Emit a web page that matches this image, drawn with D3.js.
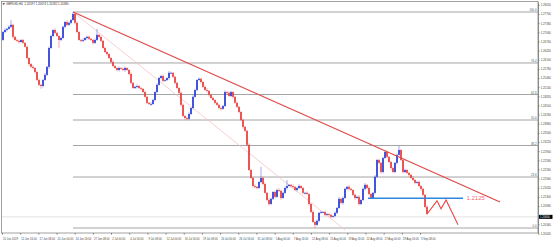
<!DOCTYPE html>
<html><head><meta charset="utf-8">
<script src="https://cdn.jsdelivr.net/npm/d3@7"></script>
<style>body{margin:0;background:#fff}svg{display:block}text{font-family:"Liberation Sans",Arial,sans-serif}</style>
</head><body><svg id="c" width="553" height="241"></svg>
<script>
// ---- data (GBPUSD H4) ----
const closes=[1.2707,1.2714,1.2718,1.2725,1.2732,1.2690,1.2679,1.2676,1.2672,1.2679,
1.2669,1.2655,1.2616,1.2595,1.2585,1.2581,1.2567,1.2539,1.2522,1.2518,
1.2539,1.2557,1.2585,1.2651,1.2693,1.2714,1.2704,1.2693,1.2679,1.2686,
1.2725,1.2742,1.2732,1.2739,1.2749,1.2770,1.2739,1.2707,1.2679,1.2676,
1.2679,1.2686,1.2690,1.2683,1.2679,1.2669,1.2679,1.2697,1.2690,1.2676,
1.2651,1.2637,1.2630,1.2616,1.2602,1.2588,1.2581,1.2574,1.2581,1.2578,
1.2574,1.2581,1.2574,1.2560,1.2529,1.2511,1.2515,1.2518,1.2511,1.2508,
1.2497,1.2480,1.2459,1.2455,1.2455,1.2469,1.2497,1.2522,1.2546,1.2553,
1.2536,1.2539,1.2546,1.2564,1.2564,1.2550,1.2529,1.2511,1.2494,1.2452,
1.2413,1.2406,1.2403,1.2420,1.2441,1.2480,1.2504,1.2539,1.2543,1.2532,
1.2515,1.2504,1.2501,1.2487,1.2476,1.2469,1.2459,1.2452,1.2441,1.2438,
1.2448,1.2497,1.2494,1.2483,1.2497,1.2480,1.2459,1.2445,1.2427,1.2399,
1.2375,1.2361,1.2312,1.2224,1.2196,1.2168,1.2165,1.2161,1.2182,1.2196,
1.2175,1.2144,1.2119,1.2105,1.2123,1.2147,1.2130,1.2154,1.2151,1.2126,
1.2144,1.2161,1.2168,1.2172,1.2168,1.2165,1.2154,1.2161,1.2168,1.2161,
1.2144,1.2144,1.2140,1.2105,1.2077,1.2042,1.2032,1.2046,1.2074,1.2077,
1.2077,1.2067,1.2070,1.2067,1.2060,1.2063,1.2074,1.2091,1.2123,1.2109,
1.2126,1.2158,1.2165,1.2158,1.2154,1.2137,1.2126,1.2130,1.2105,1.2119,
1.2158,1.2172,1.2161,1.2140,1.2126,1.2144,1.2200,1.2259,1.2249,1.2217,
1.2266,1.2287,1.2270,1.2252,1.2231,1.2217,1.2249,1.2277,1.2294,1.2259,
1.2217,1.2224,1.2214,1.2207,1.2196,1.2189,1.2179,1.2182,1.2168,1.2158,
1.2137,1.2095,1.2070];
const firstOpen=1.2679;
// wick lengths in pips
const wickHi=[4,6,3,5,17,4,3,5,4,3, 4,3,5,3,4,6,3,4,5,3, 4,6,3,5,4,3,6,4,3,5, 4,3,6,4,3,7,4,5,3,4,
6,3,4,5,3,4,5,21,3,4, 3,5,4,3,4,6,3,4,5,3, 4,5,3,4,6,3,4,5,3,4, 3,5,4,3,6,4,3,5,4,3,
5,4,3,6,4,3,5,4,3,4, 5,3,4,6,3,5,4,3,5,4, 3,4,6,3,4,5,3,4,3,5, 4,6,3,5,4,3,4,5,3,4,
5,3,4,6,3,4,5,3,4,39, 4,5,3,6,4,3,5,4,6,3, 4,5,21,3,4,5,3,4,6,3, 4,3,5,4,3,6,4,5,3,4,
3,5,4,3,4,3,5,4,6,3, 5,4,3,6,4,3,5,4,6,3, 4,6,3,5,4,3,6,4,5,3, 4,6,5,3,4,5,3,4,14,4,
3,5,4,3,4,6,3,4,5,3, 4,3,5];
const wickLo=[3,4,5,3,4,6,3,4,5,3, 4,3,5,6,3,4,5,3,4,10, 5,3,4,6,3,4,5,3,28,4, 3,5,4,3,4,3,6,4,3,5,
4,3,5,4,3,6,4,3,5,4, 3,4,6,3,5,4,3,4,5,3, 4,6,3,5,4,3,4,5,3,6, 4,3,5,4,6,3,4,5,3,4,
5,3,4,6,3,4,5,3,4,6, 4,6,5,3,4,5,3,4,3,5, 4,3,5,6,3,4,5,3,4,6, 3,4,5,3,4,6,3,4,5,4,
6,3,5,4,3,6,5,4,3,4, 5,3,4,6,3,4,5,3,4,6, 3,4,5,3,6,4,3,5,4,3, 4,6,3,5,4,3,11,4,5,3,
4,5,3,6,4,3,4,5,3,4, 6,3,4,5,3,4,6,3,5,4, 3,5,4,6,3,4,5,3,4,6, 4,3,5,4,6,3,4,5,3,4,
5,3,4,6,3,4,5,3,4,6, 4,5,3];
const xLabels=["10 Jun 2019","12 Jun 16:00","17 Jun 08:00","20 Jun 00:00","24 Jun 16:00","27 Jun 08:00",
"2 Jul 00:00","4 Jul 16:00","9 Jul 08:00","12 Jul 00:00","16 Jul 16:00","19 Jul 08:00",
"24 Jul 00:00","26 Jul 16:00","31 Jul 08:00","5 Aug 00:00","7 Aug 16:00","12 Aug 08:00",
"15 Aug 00:00","19 Aug 16:00","22 Aug 08:00","27 Aug 00:00","29 Aug 16:00","3 Sep 08:00"];
const yTicks=[1.2802,1.2770,1.2738,1.2706,1.2674,1.2642,1.2610,1.2578,1.2546,1.2514,1.2482,1.2450,1.2418,
1.2386,1.2354,1.2322,1.2290,1.2258,1.2226,1.2194,1.2162,1.2130,1.2098,1.2034,1.2002];
const fibLevels=[0,23.6,38.2,50,61.8,76.4,100];
const fibHigh=1.2777, fibLow=1.2021, fibStart=35;
const trendLine=[[35,1.2777],[248.5,1.2112]];
const faintLine=[[35,1.2777],[171,1.2014]];
const supportLevel=1.2125, supportFrom=182.5, supportTo=230;
const projection=[[212,1.2070],[217,1.2116],[219,1.2088],[221.5,1.2119],[227.5,1.2032]];
const currentPrice=1.2060;
const header="GBPUSD,H4  1.20597 1.20674 1.20282 1.20380";

// ---- layout ----
const L=1.5,R=538,T=1.5,B=233;
const svg=d3.select("#c");
const x=d3.scaleLinear().domain([0,closes.length-1]).range([3,427]);
const xl=d3.scaleLinear().domain([0,xLabels.length-1]).range([2,420]);
const y=d3.scaleLinear().domain([1.20035,1.2812]).range([233,2]);
const UP="#2d3fd8",DN="#e8403f";

svg.append("clipPath").attr("id","clip").append("rect").attr("x",L).attr("y",T).attr("width",R-L).attr("height",B-T);
const g=svg.append("g").attr("clip-path","url(#clip)");

// fib levels
const fib=g.append("g");
fibLevels.forEach(l=>{
  const p=fibLow+(fibHigh-fibLow)*l/100;
  fib.append("line").attr("x1",x(fibStart)).attr("x2",R).attr("y1",y(p)).attr("y2",y(p))
    .attr("stroke","#a4a4a4").attr("stroke-width",1);
  fib.append("text").attr("x",R-1.5).attr("y",y(p)-0.8).attr("text-anchor","end")
    .attr("font-size",2.8).attr("fill","#555").text(l.toFixed(1));
});
// current price line
g.append("line").attr("x1",L).attr("x2",R).attr("y1",y(currentPrice)).attr("y2",y(currentPrice))
  .attr("stroke","#dcdcdc").attr("stroke-width",0.8);

const line=d3.line().x(d=>x(d[0])).y(d=>y(d[1]));
g.append("path").attr("d",line(faintLine)).attr("stroke","#f4c4c4").attr("stroke-width",0.8).attr("fill","none");

// candles
const candles=closes.map((c,i)=>{
  const o=i?closes[i-1]:firstOpen;
  return {i,o,c,h:Math.max(o,c)+wickHi[i]*1e-4,l:Math.min(o,c)-wickLo[i]*1e-4};
});
const cg=g.append("g");
cg.selectAll("line").data(candles).join("line")
  .attr("x1",d=>x(d.i)).attr("x2",d=>x(d.i)).attr("y1",d=>y(d.h)).attr("y2",d=>y(d.l))
  .attr("stroke",d=>d.c>=d.o?UP:DN).attr("stroke-opacity",0.5).attr("stroke-width",0.9);
cg.selectAll("rect").data(candles).join("rect")
  .attr("x",d=>x(d.i)-0.85).attr("width",1.7)
  .attr("y",d=>y(Math.max(d.o,d.c)))
  .attr("height",d=>Math.max(0.8,Math.abs(y(d.o)-y(d.c))))
  .attr("fill",d=>d.c>=d.o?UP:DN);

// trend line
g.append("path").attr("d",line(trendLine)).attr("stroke","#e04848").attr("stroke-width",1.2).attr("fill","none");
// support line
g.append("line").attr("x1",x(supportFrom)).attr("x2",x(supportTo)).attr("y1",y(supportLevel)).attr("y2",y(supportLevel))
  .attr("stroke","#2f86dc").attr("stroke-width",1.5);
g.append("text").attr("x",x(supportTo)+3.5).attr("y",y(supportLevel)+2.1).attr("font-size",6)
  .attr("fill","#f26d6d").text(supportLevel.toFixed(4));
// projection
g.append("path").attr("d",line(projection)).attr("stroke","#e84848").attr("stroke-width",1.1).attr("fill","none");

// frame
svg.append("rect").attr("x",L).attr("y",T).attr("width",R-L).attr("height",B-T)
  .attr("fill","none").attr("stroke","#8a8a8a").attr("stroke-width",0.8);

// axes
const ya=svg.append("g").attr("transform",`translate(${R},0)`)
  .call(d3.axisRight(y).tickValues(yTicks).tickSize(1.5).tickSizeOuter(0).tickPadding(1.2).tickFormat(d3.format(".5f")));
ya.select(".domain").attr("stroke","#8a8a8a");
ya.selectAll("line").attr("stroke","#777");
ya.selectAll("text").attr("font-size",2.8).attr("fill","#444").attr("font-family","Liberation Sans, Arial, sans-serif");

const xa=svg.append("g").attr("transform",`translate(0,${B})`)
  .call(d3.axisBottom(xl).tickValues(d3.range(xLabels.length)).tickSize(1.5).tickSizeOuter(0).tickFormat(i=>xLabels[i]));
xa.select(".domain").remove();
xa.selectAll("line").attr("stroke","#777");
xa.selectAll("text").attr("font-size",2.7).attr("fill","#444").attr("text-anchor","start").attr("x",0.6).attr("dy","0.9em")
  .attr("font-family","Liberation Sans, Arial, sans-serif");

// current price box
svg.append("rect").attr("x",R+1).attr("y",y(currentPrice)-2).attr("width",13.5).attr("height",4).attr("fill","#000");
svg.append("text").attr("x",R+2).attr("y",y(currentPrice)+0.9).attr("font-size",2.7).attr("fill","#fff").text(currentPrice.toFixed(5));

// header
svg.append("path").attr("d","M2.5,3.2 L5,3.2 L3.75,5 Z").attr("fill","#333");
svg.append("text").attr("x",6).attr("y",5).attr("font-size",2.9).attr("fill","#333").attr("xml:space","preserve").text(header);
</script></body></html>
